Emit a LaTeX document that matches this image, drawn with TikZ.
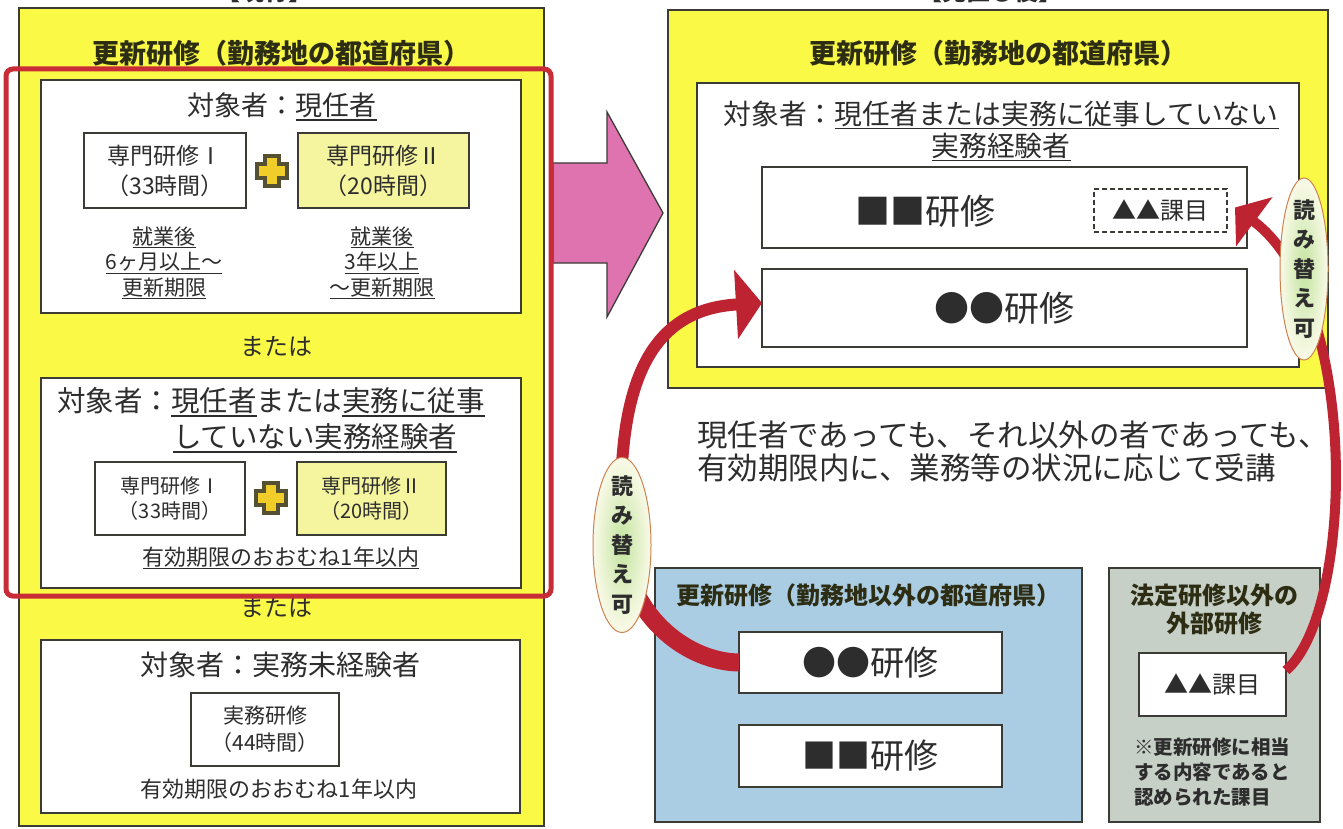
\documentclass[tikz,border=0pt]{standalone}
\usepackage{fontspec}
\setmainfont{Noto Sans CJK JP}
\usetikzlibrary{shapes.geometric,arrows.meta,calc}
\definecolor{yel}{RGB}{250,250,70}
\definecolor{lyel}{RGB}{245,245,160}
\definecolor{redf}{RGB}{200,45,55}
\definecolor{pinkar}{RGB}{222,115,175}
\definecolor{arrred}{RGB}{190,35,50}
\definecolor{bluebg}{RGB}{170,205,228}
\definecolor{graybg}{RGB}{198,208,198}
\definecolor{edge}{RGB}{60,60,55}
\definecolor{txt}{RGB}{45,45,45}
\definecolor{ttl}{RGB}{45,45,20}
\definecolor{ellb}{RGB}{205,130,80}
\definecolor{ellg}{RGB}{195,228,160}
\definecolor{ellw}{RGB}{250,250,232}
\definecolor{plusf}{RGB}{240,205,40}
\definecolor{plusd}{RGB}{85,80,50}
\newcommand\fsz[2]{\fontsize{#1}{#2}\selectfont}
\newcommand\ulx[1]{\leavevmode\setbox0\hbox{#1}\rlap{\vrule height -0.13em depth 0.18em width \wd0}\box0}
\pgfdeclarelayer{front}
\pgfsetlayers{main,front}
\begin{document}
\begin{tikzpicture}[x=1pt,y=-1pt,
  every node/.style={inner sep=0pt,outer sep=0pt,text=txt},
  panel/.style={draw=edge,line width=1.5pt,anchor=north west},
  ypanel/.style={panel,fill=yel},
  wpanel/.style={panel,fill=white},
  lypanel/.style={panel,fill=lyel},
  bpanel/.style={panel,fill=bluebg},
  gpanel/.style={panel,fill=graybg},
  dpanel/.style={draw=edge,line width=1.3pt,dash pattern=on 5pt off 3pt,anchor=north west},
  ttlfont/.style={font=\bfseries\fsz{27}{32},text=ttl},
  readell/.style={ellipse,draw=ellb,line width=1pt,inner color=ellg,outer color=ellw},
  readtxt/.style={font=\bfseries\fsz{22}{29.5},align=center},
  redarrow/.style={draw=arrred,line cap=butt},
  plusicon/.style={fill=plusf,draw=plusd,line width=4pt,line join=miter}
]
\fill[white] (0,0) rectangle (1343,829);
\useasboundingbox (0,0) rectangle (1343,829);

% headers (cut off at the top, as in the reference)
\node[font=\bfseries\fsz{24}{28},anchor=base] (HL) at (264,1) {【現行】};
\node[font=\bfseries\fsz{24}{28},anchor=base] (HR) at (990,1) {【見直し後】};

% ===== left =====
\node[ypanel,minimum width=525pt,minimum height=818pt] (LY) at (19,8) {};
\node[ttlfont] (LT) at (281,53) {更新研修（勤務地の都道府県）};

% pink arrow
\draw[fill=pinkar,draw=edge,line width=1.3pt] (553,163) -- (607,163) -- (607,112) -- (663,213) -- (607,317) -- (607,263) -- (553,263) -- cycle;

% box 1
\node[wpanel,minimum width=480pt,minimum height=233pt] (B1) at (41,80) {};
\node[font=\fsz{27}{32}] (B1t) at (282,107) {対象者：\ulx{現任者}};
\node[wpanel,minimum width=162pt,minimum height=75pt,align=center,font=\fsz{23}{30}] (B1a) at (84,133) {専門研修Ⅰ\\（33時間）};
\node[lypanel,minimum width=171pt,minimum height=75pt,align=center,font=\fsz{23}{30}] (B1b) at (298,133) {専門研修Ⅱ\\（20時間）};
\path[plusicon,shift={(272,171)}] (-7,-15) -- (7,-15) -- (7,-7) -- (15,-7) -- (15,7) -- (7,7) -- (7,15) -- (-7,15) -- (-7,7) -- (-15,7) -- (-15,-7) -- (-7,-7) -- cycle;
\node[font=\fsz{21}{25.5},align=center] (B1c) at (164,263) {\ulx{就業後}\\\ulx{6ヶ月以上～}\\\ulx{更新期限}};
\node[font=\fsz{21}{25.5},align=center] (B1d) at (382,263) {\ulx{就業後}\\\ulx{3年以上}\\\ulx{～更新期限}};
\node[font=\fsz{24}{28}] (or1) at (276,347) {または};

% box 2
\node[wpanel,minimum width=480pt,minimum height=210pt] (B2) at (41,378) {};
\node[font=\fsz{28.5}{34},anchor=west] (B2t1) at (57,402) {対象者：\ulx{現任者}または\ulx{実務に従事}};
\node[font=\fsz{28.5}{34},anchor=west] (B2t2) at (173,438) {\ulx{していない実務経験者}};
\node[wpanel,minimum width=150pt,minimum height=73pt,align=center,font=\fsz{20}{25}] (B2a) at (95,462) {専門研修Ⅰ\\（33時間）};
\node[lypanel,minimum width=149pt,minimum height=73pt,align=center,font=\fsz{20}{25}] (B2b) at (297,462) {専門研修Ⅱ\\（20時間）};
\path[plusicon,shift={(271,498)}] (-7,-15) -- (7,-15) -- (7,-7) -- (15,-7) -- (15,7) -- (7,7) -- (7,15) -- (-7,15) -- (-7,7) -- (-15,7) -- (-15,-7) -- (-7,-7) -- cycle;
\node[font=\fsz{22}{26}] (B2c) at (281,558) {\ulx{有効期限のおおむね1年以内}};
\node[font=\fsz{24}{28}] (or2) at (276,608) {または};

% red frame
\node[draw=redf,line width=5pt,rounded corners=7pt,anchor=north west,minimum width=545pt,minimum height=527pt] (RF) at (6,69) {};

% box 3
\node[wpanel,minimum width=479pt,minimum height=173pt] (B3) at (41,640) {};
\node[font=\fsz{28}{34}] (B3t) at (280,665) {対象者：実務未経験者};
\node[wpanel,minimum width=148pt,minimum height=73pt,align=center,font=\fsz{21}{27}] (B3a) at (191,693) {実務研修\\（44時間）};
\node[font=\fsz{22}{26}] (B3c) at (279,789) {有効期限のおおむね1年以内};

% ===== right =====
\node[ypanel,minimum width=660pt,minimum height=378pt] (RY) at (668,10) {};
\node[ttlfont] (RT) at (998,53) {更新研修（勤務地の都道府県）};
\node[wpanel,minimum width=602pt,minimum height=284pt] (RW) at (697,83) {};
\node[font=\fsz{27.8}{32}] (RWt1) at (1001,115) {対象者：\ulx{現任者または実務に従事していない}};
\node[font=\fsz{27.8}{32}] (RWt2) at (1001,147) {\ulx{実務経験者}};
\node[wpanel,minimum width=485pt,minimum height=81pt] (SQ) at (762,167) {};
\node[font=\fsz{35}{40}] (SQt) at (925,211) {■■研修};
\node[dpanel,minimum width=133pt,minimum height=43pt,font=\fsz{24}{28}] (TRd) at (1094,189) {▲▲課目};
\node[wpanel,minimum width=485pt,minimum height=78pt,font=\fsz{35}{40}] (CC) at (762,269) {●●研修};

\node[font=\fsz{30.5}{34},anchor=west] (M1) at (697,435) {現任者であっても、それ以外の者であっても、};
\node[font=\fsz{30.5}{34},anchor=west] (M2) at (697,468) {有効期限内に、業務等の状況に応じて受講};

% blue box
\node[bpanel,minimum width=427pt,minimum height=254pt] (BL) at (655,568) {};
\node[font=\bfseries\fsz{24}{28},text=ttl] (BLt) at (868,595) {更新研修（勤務地以外の都道府県）};
\node[wpanel,minimum width=263pt,minimum height=61pt,font=\fsz{34}{40}] (BLc) at (739,632) {●●研修};
\node[wpanel,minimum width=263pt,minimum height=62pt,font=\fsz{34}{40}] (BLs) at (739,725) {■■研修};

% gray box
\node[gpanel,minimum width=211pt,minimum height=254pt] (GR) at (1109,568) {};
\node[font=\bfseries\fsz{24}{28},text=ttl,align=center] (GRt) at (1214,609) {法定研修以外の\\外部研修};
\node[wpanel,minimum width=147pt,minimum height=63pt,font=\fsz{24}{28}] (GRa) at (1139,653) {▲▲課目};
\node[font=\bfseries\fsz{19.5}{25},align=left] (GRn) at (1212,772) {※更新研修に相当\\する内容であると\\認められた課目};

% "読み替え可" ellipses (front layer)
\begin{pgfonlayer}{front}
\node[readell,minimum width=58pt,minimum height=175pt] (EL) at (622,545) {};
\node[readtxt] (ELt) at (EL.center) {読\\み\\替\\え\\可};
\node[readell,minimum width=48pt,minimum height=182pt] (ER) at (1304,269) {};
\node[readtxt] (ERt) at (ER.center) {読\\み\\替\\え\\可};
\end{pgfonlayer}

% red curved arrows
\draw[redarrow,line width=18pt] (BLc.west) .. controls (690,662) and (630,620) .. (EL.center);
\draw[redarrow,line width=12pt,-{Triangle[length=26pt 0 0,width=68pt 0 0]}] (EL.center) .. controls (615,400) and (640,310) .. ($(CC.west)+(0,-5)$);
\draw[redarrow,line width=10pt,-{Triangle[length=24pt 0 0,width=60pt 0 0]}] ($(GRa.east)+(0,-14)$) .. controls (1355,610) and (1360,300) .. ($(TRd.east)+(8,-3)$);
\end{tikzpicture}
\end{document}
